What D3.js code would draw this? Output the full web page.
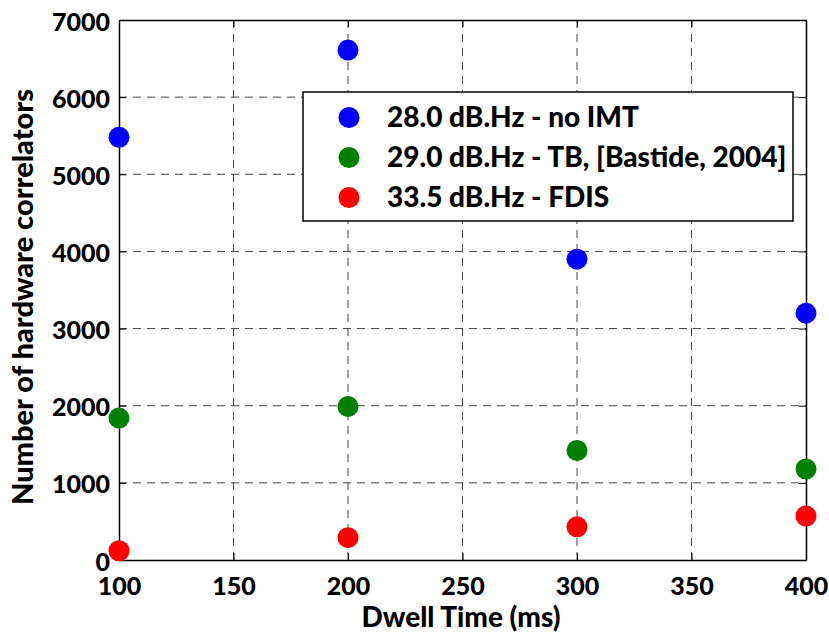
<!DOCTYPE html>
<html>
<head>
<meta charset="utf-8">
<script src="https://cdn.jsdelivr.net/npm/d3@7"></script>
<style>
  html, body { margin: 0; padding: 0; background: #fff; }
  svg { display: block; }
  text { font-family: Lato, "Open Sans", sans-serif; font-weight: 900; fill: #000; }
</style>
</head>
<body>
<svg id="chart" width="829" height="632"></svg>
<script>
// Dwell time (ms) on the x axis
const dwellTimes = [100, 200, 300, 400];

// Number of hardware correlators required for each configuration
const seriesNames = [
  "28.0 dB.Hz - no IMT",
  "29.0 dB.Hz - TB, [Bastide, 2004]",
  "33.5 dB.Hz - FDIS"
];
const noImt = [5480, 6610, 3900, 3200];
const tbBastide = [1840, 1990, 1420, 1180];
const fdis = [120, 290, 430, 570];
const seriesColors = ["#0000ff", "#008000", "#ff0000"];

const xTicks = [100, 150, 200, 250, 300, 350, 400];
const yTicks = [0, 1000, 2000, 3000, 4000, 5000, 6000, 7000];

const series = [noImt, tbBastide, fdis].map((vals, i) => ({
  name: seriesNames[i],
  color: seriesColors[i],
  points: vals.map((v, j) => ({ x: dwellTimes[j], y: v }))
}));

const svg = d3.select("#chart");
const margin = { left: 119, right: 23, top: 20, bottom: 72 };
const W = 829, H = 632;
const pw = W - margin.left - margin.right;
const ph = H - margin.top - margin.bottom;

const x = d3.scaleLinear().domain([100, 400]).range([margin.left, margin.left + pw]);
const y = d3.scaleLinear().domain([0, 7000]).range([margin.top + ph, margin.top]);

// Dashed grid
const grid = svg.append("g");
grid.selectAll("line.gx").data(xTicks.slice(1, -1)).join("line")
  .attr("x1", d => x(d)).attr("x2", d => x(d))
  .attr("y1", y(0)).attr("y2", y(7000))
  .attr("stroke", "#444").attr("stroke-width", 1).attr("stroke-dasharray", "8,6");
grid.selectAll("line.gy").data(yTicks.slice(1, -1)).join("line")
  .attr("x1", x(100)).attr("x2", x(400))
  .attr("y1", d => y(d)).attr("y2", d => y(d))
  .attr("stroke", "#444").attr("stroke-width", 1).attr("stroke-dasharray", "8,6");

// Axes (ticks point inward, on all four sides)
const tickLen = 7;
const fmt = d3.format("d");
const xAxisB = svg.append("g").attr("transform", `translate(0,${y(0)})`)
  .call(d3.axisBottom(x).tickValues(xTicks).tickSizeInner(-tickLen).tickSizeOuter(0).tickFormat(fmt));
const xAxisT = svg.append("g").attr("transform", `translate(0,${y(7000)})`)
  .call(d3.axisTop(x).tickValues(xTicks).tickSizeInner(-tickLen).tickSizeOuter(0).tickFormat(""));
const yAxisL = svg.append("g").attr("transform", `translate(${x(100)},0)`)
  .call(d3.axisLeft(y).tickValues(yTicks).tickSizeInner(-tickLen).tickSizeOuter(0).tickFormat(fmt));
const yAxisR = svg.append("g").attr("transform", `translate(${x(400)},0)`)
  .call(d3.axisRight(y).tickValues(yTicks).tickSizeInner(-tickLen).tickSizeOuter(0).tickFormat(""));

[xAxisB, xAxisT, yAxisL, yAxisR].forEach(a => {
  a.select(".domain").attr("stroke", "#000").attr("stroke-width", 1.5);
  a.selectAll(".tick line").attr("stroke", "#000").attr("stroke-width", 1);
  a.selectAll(".tick text").attr("font-family", "Lato, sans-serif")
    .attr("font-weight", 900).attr("font-size", 25).attr("fill", "#000");
});
yAxisL.selectAll(".tick text").attr("x", -9).attr("y", 10).attr("dy", 0);
xAxisB.selectAll(".tick text").attr("y", 35).attr("dy", 0);

// Axis titles
svg.append("text")
  .attr("x", 461).attr("y", 627)
  .attr("text-anchor", "middle").attr("font-size", 28)
  .text("Dwell Time (ms)");
svg.append("text")
  .attr("transform", "translate(33,297) rotate(-90)")
  .attr("text-anchor", "middle").attr("font-size", 29)
  .text("Number of hardware correlators");

// Data markers
series.forEach(s => {
  svg.append("g").selectAll("circle").data(s.points).join("circle")
    .attr("cx", d => x(d.x)).attr("cy", d => y(d.y))
    .attr("r", 10.5).attr("fill", s.color);
});

// Legend
const lg = svg.append("g");
lg.append("rect")
  .attr("x", 303).attr("y", 92).attr("width", 490).attr("height", 129)
  .attr("fill", "#fff").attr("stroke", "#000").attr("stroke-width", 1.5);
series.forEach((s, i) => {
  const cy = 117.5 + i * 40;
  lg.append("circle").attr("cx", 349).attr("cy", cy).attr("r", 10.5).attr("fill", s.color);
  lg.append("text").attr("x", 387).attr("y", cy + 9)
    .attr("font-size", 28).text(s.name);
});
</script>
</body>
</html>
